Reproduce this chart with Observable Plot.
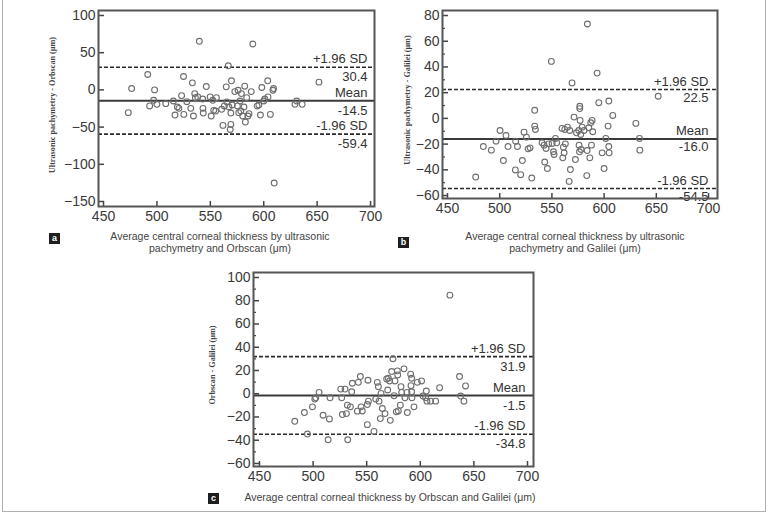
<!DOCTYPE html>
<html><head><meta charset="utf-8">
<script src="https://cdn.jsdelivr.net/npm/d3@7"></script>
<script src="https://cdn.jsdelivr.net/npm/@observablehq/plot@0.6"></script>
<style>
body{margin:0;background:#fff;}
#fig{position:relative;width:770px;height:519px;overflow:hidden;font-family:"Liberation Sans",Arial,sans-serif;background:#fff;}
.p{position:absolute;}
.yt{position:absolute;font-family:"Liberation Serif",serif;font-weight:bold;font-size:8.2px;color:#444;transform:translate(-50%,-50%) rotate(-90deg);white-space:nowrap;}
.xt{position:absolute;font-size:10.5px;color:#444;text-align:center;transform:translateX(-50%);line-height:12px;white-space:nowrap;}
.tag{position:absolute;background:#1e1e1e;color:#fff;font-size:9px;font-weight:bold;width:11px;height:11px;line-height:10px;text-align:center;}
.border{position:absolute;left:2px;top:-3px;width:762px;height:513px;border:1.5px solid #b0b0b0;}
</style></head>
<body><div id="fig"><div class="border"></div></div>
<script>
// ---------- data ----------
const aX = [473.2,476.3,491.4,493.2,496.9,497.8,500,508.3,515.4,516.9,519.1,520.6,523.1,524.9,525.2,528,531.7,533.2,534.2,535.4,536,538.2,539.7,542.8,543.1,543.4,546.2,549.8,550.8,552.3,553.2,555.7,555,560.6,561.8,563.1,564.9,565.5,566.8,567.4,568.6,569.2,569.2,569.8,570.5,572.9,575.4,576,576.6,577.8,578.5,579.1,580.3,581.5,582.2,582.8,584,585.2,586.2,588.3,589.8,593.8,595.4,596.9,598.2,600,601,604,603.7,606.2,608.6,609.2,609.8,629.2,630.8,636,651.7];
const aY = [-30.6,1.8,20.7,-21.6,-14,0,-19.4,-18.5,-14.9,-33.8,-23,-24.8,-7.7,18,-32.9,-15.8,-24.8,9.5,-35.1,-5,-10.4,-9.5,65.3,-12.2,-24.8,-31.1,4.5,-9.5,-35.1,-14,-27.5,-10.4,-28.4,-26.1,-47.7,-21.6,4.1,-16.2,32.4,-23,-53.2,-46.4,-31.1,12.2,-20.3,-2.3,-21.6,-0.5,-30.6,-14.9,-28.4,-5,-35.1,-23,5,-43.2,-10.4,-35.1,-32,-2.3,61.7,-21.6,-20.3,-33.8,3.2,-14.9,-12.2,-9.5,12.2,-32.9,-0.5,1.8,-125.2,-19.4,-14.9,-19.4,10.4];
const bX = [477,484.3,492,496.5,500.3,503.5,506,508,515.3,515,517,520.1,521.7,523.3,525.6,527.2,529.1,530.7,533.5,533.5,534.2,540.6,542.5,543.1,544.4,545.7,546.9,549.5,550.2,551.5,552.1,553.4,554.6,559.7,560.4,561,561.7,562.3,562.9,564.9,566.5,567.1,567.7,569.3,571.2,572.5,573.5,575.7,576,576.4,576.7,576.7,577,577.6,578,578.9,580.8,583.4,583.7,584,585.3,586.3,587.2,587.9,588.5,589.1,593.3,594.9,598.1,600,601.6,603.8,604.5,604.5,604.8,608.3,630.4,633.9,634.2,651.8];
const bY = [-45.6,-21.9,-24.7,-17.7,-9.4,-32.8,-13.3,-21.9,-17.7,-40.1,-21.9,-43.8,-32.8,-10.7,-14.6,-23.7,-22.9,-46.4,6.3,-6,-8.6,-19,-20.8,-33.9,-23.4,-39,-19.8,44.3,-19.5,-26,-28.1,-15.6,-19,-7.8,-30.7,-22.4,-26.8,-8.6,-19.8,-6.8,-49,-9.4,-39.8,27.6,1,-32,-11.2,-9.4,-20.8,-26,9.4,7.6,-1.6,-12.5,-24.2,-6.8,-9.4,-44.5,-25,73.4,-7.3,-30.7,-3.4,-20.8,-1.6,-10.4,35.2,12.2,-26.8,-39,-15.6,-6,13.5,-21.9,-26.8,2.3,-3.9,-15.6,-24.7,17.2];
const cX = [482.9,491.9,494.7,499.4,501.6,502.5,505.6,509.3,515.2,515.8,514,525.8,526.7,527.3,529.8,531.1,532,532.3,534.8,536,536.6,541.3,542.2,544.1,544.7,545.9,550.6,550.6,551.6,551.2,556.8,558.4,559.9,560.9,561.5,562.7,563.4,564.6,567.1,568.6,569.6,570.2,571.4,572,573.3,574.5,575.5,576.4,577.6,578.6,578.9,579.5,581.4,582,582.6,584.8,585.7,587.6,587.9,591,591.3,591.9,591.9,592.2,594.1,597.2,601.2,602.5,605,605.6,606.2,609.6,614.3,618,627.6,636.6,637.6,640.7,642.2];
const cY = [-23.7,-16.2,-34.7,-11.3,-4.6,-3.5,1.2,-18.5,-21.7,-3.5,-39.6,4,-3.5,-17.9,4,-17.1,-9.8,-39.6,-11.3,1.7,9,-15,9.8,14.8,-11.3,-14.8,-26.6,-9.3,-6.4,11.6,-32.4,-4.6,9.8,6.1,-6.4,-21.4,0.3,-12.7,-17.1,12.7,3.2,13.3,11,-22.9,19.1,30.1,-1.7,11,-15.6,19.7,16.2,-14.8,-9.8,6.1,1.2,21.4,-3.5,1.2,-16.2,16.8,6.9,13.3,1.7,-3.5,-11.3,9.8,11,-2,-3.5,2.3,-6.4,-6.4,-6.4,5.2,84.8,14.8,-2,-6.4,6.7];

// limits: [+1.96 SD, mean, -1.96 SD]
const aLimits = [30.4, -14.5, -59.4];
const bLimits = [22.5, -16.0, -54.5];
const cLimits = [31.9, -1.5, -34.8];
const limitNames = ["+1.96 SD", "Mean", "-1.96 SD"];

const xTicks = [450, 500, 550, 600, 650, 700];
const aYTicks = [100, 50, 0, -50, -100, -150];
const bYTicks = [80, 60, 40, 20, 0, -20, -40, -60];
const cYTicks = [100, 80, 60, 40, 20, 0, -20, -40, -60];
const bYMinor = [70, 50, 30, 10, -10, -30, -50];
const cYMinor = [90, 70, 50, 30, 10, -10, -30, -50];

const aTitleY = "Ultrasonic pachymetry - Orbscan (μm)";
const bTitleY = "Ultrasonic pachymetry - Galilei (μm)";
const cTitleY = "Orbscan - Galilei (μm)";
const aTitleX = ["Average central corneal thickness by ultrasonic", "pachymetry and Orbscan (μm)"];
const bTitleX = ["Average central corneal thickness by ultrasonic", "pachymetry and Galilei (μm)"];
const cTitleX = ["Average central corneal thickness by Orbscan and Galilei (μm)"];

// ---------- drawing ----------
const fig = document.getElementById("fig");

function panel(o) {
  const fw = o.width - o.ml - o.mr;
  const fh = o.height - o.mt - o.mb;
  const pts = o.xs.map((x, i) => ({x, y: o.ys[i]}));
  const rows = o.limits.map((v, i) => ({v, name: limitNames[i], val: v.toFixed(1), dash: i !== 1}));
  const chart = Plot.plot({
    width: o.width, height: o.height,
    marginLeft: o.ml, marginRight: o.mr, marginTop: o.mt, marginBottom: o.mb,
    style: {fontFamily: "'Liberation Sans', Arial, sans-serif", background: "transparent", overflow: "visible"},
    x: {domain: o.xd, label: null},
    y: {domain: o.yd, label: null},
    marks: [
      Plot.axisX(xTicks, {tickSize: 0, tickPadding: 5, fontSize: 14, fill: "#3a3a3a", label: null}),
      Plot.axisY(o.yTicks, {tickSize: 0, tickPadding: 3, fontSize: 14, fill: "#3a3a3a", label: null}),
      Plot.tickX(xTicks, {x: d => d, insetTop: fh - 5, stroke: "#444", strokeWidth: 1.5}),
      Plot.tickY(o.yTicks, {y: d => d, insetRight: fw - 6, stroke: "#444", strokeWidth: 1.5}),
      Plot.tickY(o.yMinor || [], {y: d => d, insetRight: fw - 3, stroke: "#444", strokeWidth: 1.2}),
      Plot.ruleY(rows.filter(r => r.dash), {y: "v", stroke: "#2a2a2a", strokeWidth: 1.6, strokeDasharray: "4,2"}),
      Plot.ruleY(rows.filter(r => !r.dash), {y: "v", stroke: "#3a3a3a", strokeWidth: 2}),
      Plot.text(rows, {y: "v", text: "name", frameAnchor: "right", textAnchor: "end", dx: o.tdx, dy: -8, fontSize: 13, fill: "#333"}),
      Plot.text(rows, {y: "v", text: "val", frameAnchor: "right", textAnchor: "end", dx: o.tdx, dy: o.tdy, fontSize: 13, fill: "#333"}),
      Plot.dot(pts, {x: "x", y: "y", r: 2.9, stroke: "#6e6e6e", strokeWidth: 1.1, fill: "none"}),
      Plot.frame({stroke: "#555", strokeWidth: 2})
    ]
  });
  chart.classList.add("p");
  chart.style.left = o.left + "px";
  chart.style.top = o.top + "px";
  fig.appendChild(chart);

  const yt = document.createElement("div");
  yt.className = "yt";
  yt.textContent = o.titleY;
  yt.style.left = o.ytx + "px";
  yt.style.top = o.yty + "px";
  fig.appendChild(yt);

  const xt = document.createElement("div");
  xt.className = "xt";
  xt.innerHTML = o.titleX.join("<br>");
  xt.style.left = o.xtx + "px";
  xt.style.top = o.xty + "px";
  fig.appendChild(xt);

  const tag = document.createElement("div");
  tag.className = "tag";
  tag.textContent = o.tag;
  tag.style.left = o.tagx + "px";
  tag.style.top = o.tagy + "px";
  fig.appendChild(tag);
}

panel({xs: aX, ys: aY, limits: aLimits, yTicks: aYTicks, yMinor: [],
  left: 0, top: 0, width: 385, height: 240, ml: 98, mr: 11, mt: 10, mb: 34,
  xd: [445.3, 703.7], yd: [-156.7, 106.7], tdx: -7, tdy: 10,
  titleY: aTitleY, ytx: 52, yty: 105, titleX: aTitleX, xtx: 220, xty: 230, tag: "a", tagx: 49, tagy: 233});

panel({xs: bX, ys: bY, limits: bLimits, yTicks: bYTicks, yMinor: bYMinor,
  left: 385, top: 0, width: 385, height: 240, ml: 57, mr: 53, mt: 10, mb: 42,
  xd: [445.2, 708.6], yd: [-62.3, 83.9], tdx: -9, tdy: 8,
  titleY: bTitleY, ytx: 407, yty: 100, titleX: bTitleX, xtx: 575, xty: 230, tag: "b", tagx: 398, tagy: 237});

panel({xs: cX, ys: cY, limits: cLimits, yTicks: cYTicks, yMinor: cYMinor,
  left: 150, top: 260, width: 400, height: 240, ml: 103, mr: 17, mt: 12, mb: 34,
  xd: [444.4, 705.6], yd: [-62.6, 104.3], tdx: -8, tdy: 10,
  titleY: cTitleY, ytx: 212, yty: 365, titleX: cTitleX, xtx: 390, xty: 491, tag: "c", tagx: 208, tagy: 493});
</script>
</body></html>
